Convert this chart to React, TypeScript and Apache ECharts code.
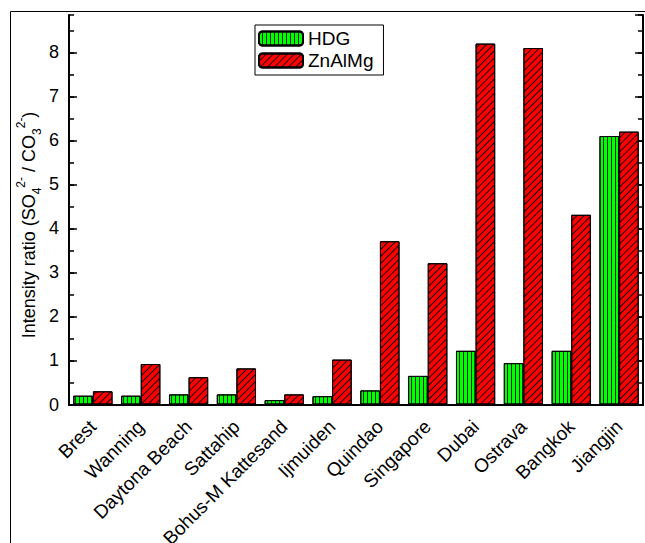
import React, { useEffect, useRef } from "react";
import * as echarts from "echarts";

const categories = [
  "Brest",
  "Wanning",
  "Daytona Beach",
  "Sattahip",
  "Bohus-M Kattesand",
  "Ijmuiden",
  "Quindao",
  "Singapore",
  "Dubai",
  "Ostrava",
  "Bangkok",
  "Jiangjin",
];
const hdgValues = [0.2, 0.2, 0.23, 0.23, 0.1, 0.19, 0.32, 0.65, 1.22, 0.94, 1.22, 6.1];
const znalmgValues = [0.3, 0.92, 0.62, 0.82, 0.23, 1.02, 3.71, 3.21, 8.2, 8.1, 4.31, 6.2];
const seriesNames = ["HDG", "ZnAlMg"];
const yMin = 0;
const yMax = 8.85;

const FONT = "Liberation Sans, Arial, sans-serif";

export default function App() {
  const ref = useRef<HTMLDivElement>(null);
  useEffect(() => {
    if (!ref.current) return;
    const chart = echarts.init(ref.current, null, { renderer: "svg" });
    const grid = { left: 69, right: 2, top: 15, bottom: 138.5, containLabel: false, outerBoundsMode: "none" };
    const axisLineStyle = { color: "#000", width: 2 };
    const xAxisBase = {
      type: "category" as const,
      data: categories,
      gridIndex: 0,
    };
    const option: any = {
      animation: false,
      backgroundColor: "#fff",
      grid,
      legend: {
        left: 255,
        top: 25,
        orient: "vertical",
        itemWidth: 44,
        itemHeight: 14,
        itemGap: 3,
        padding: [4, 10, 5, 3],
        borderColor: "#000",
        borderWidth: 1,
        textStyle: { fontSize: 19, fontFamily: FONT, color: "#000" },
        data: seriesNames,
      },
      xAxis: [
        {
          ...xAxisBase,
          position: "bottom",
          axisLine: { lineStyle: axisLineStyle },
          axisTick: { alignWithLabel: true, inside: false, length: 7, lineStyle: { color: "#000", width: 1.5 } },
          axisLabel: {
            interval: 0,
            rotate: 45,
            align: "right",
            verticalAlign: "middle",
            padding: [25, 0, 0, 0],
            margin: 19,
            fontSize: 19,
            fontFamily: FONT,
            color: "#000",
          },
          splitLine: { show: false },
        },
        {
          ...xAxisBase,
          position: "bottom",
          axisLine: { show: false },
          axisTick: { inside: false, length: 4, lineStyle: { color: "#000", width: 1.5 } },
          axisLabel: { show: false },
          splitLine: { show: false },
        },
        {
          ...xAxisBase,
          position: "top",
          axisLine: { lineStyle: axisLineStyle },
          axisTick: { alignWithLabel: true, inside: true, length: 8, lineStyle: { color: "#000", width: 1.5 } },
          axisLabel: { show: false },
          splitLine: { show: false },
        },
        {
          ...xAxisBase,
          position: "top",
          axisLine: { show: false },
          axisTick: { inside: true, length: 4, lineStyle: { color: "#000", width: 1.5 } },
          axisLabel: { show: false },
          splitLine: { show: false },
        },
      ],
      yAxis: [
        {
          type: "value",
          position: "left",
          min: yMin,
          max: yMax,
          interval: 1,
          axisLine: { show: true, lineStyle: axisLineStyle },
          axisTick: { show: true, inside: true, length: 8, lineStyle: { color: "#000", width: 1.5 } },
          axisLabel: {
            showMaxLabel: false,
            margin: 10,
            fontSize: 18,
            fontFamily: FONT,
            color: "#000",
          },
          splitLine: { show: false },
        },
        {
          type: "value",
          position: "left",
          min: yMin,
          max: yMax,
          interval: 0.5,
          axisLine: { show: false },
          axisTick: { show: true, inside: true, length: 5, lineStyle: { color: "#000", width: 1.5 } },
          axisLabel: { show: false },
          splitLine: { show: false },
        },
        {
          type: "value",
          position: "right",
          min: yMin,
          max: yMax,
          interval: 1,
          axisLine: { show: true, lineStyle: axisLineStyle },
          axisTick: { show: true, inside: true, length: 8, lineStyle: { color: "#000", width: 1.5 } },
          axisLabel: { show: false },
          splitLine: { show: false },
        },
        {
          type: "value",
          position: "right",
          min: yMin,
          max: yMax,
          interval: 0.5,
          axisLine: { show: false },
          axisTick: { show: true, inside: true, length: 5, lineStyle: { color: "#000", width: 1.5 } },
          axisLabel: { show: false },
          splitLine: { show: false },
        },
      ],
      series: [
        {
          name: seriesNames[0],
          type: "bar",
          xAxisIndex: 0,
          yAxisIndex: 0,
          data: hdgValues,
          barGap: "0%",
          barCategoryGap: "18%",
          itemStyle: {
            color: "#00ff00",
            borderColor: "#000",
            borderWidth: 1,
            decal: {
              symbol: "rect",
              symbolSize: 1,
              color: "rgba(0,0,0,0.85)",
              dashArrayX: [1, 0],
              dashArrayY: [1, 3],
              rotation: Math.PI / 2,
            },
          },
        },
        {
          name: seriesNames[1],
          type: "bar",
          xAxisIndex: 0,
          yAxisIndex: 0,
          data: znalmgValues,
          barGap: "0%",
          barCategoryGap: "18%",
          itemStyle: {
            color: "#ff0000",
            borderColor: "#000",
            borderWidth: 1,
            decal: {
              symbol: "rect",
              symbolSize: 1,
              color: "rgba(0,0,0,0.9)",
              dashArrayX: [1, 0],
              dashArrayY: [1, 4],
              rotation: -Math.PI / 4,
            },
          },
        },
      ],
      graphic: [
        {
          type: "rect",
          z: -1,
          silent: true,
          shape: { x: 10.5, y: 11.5, width: 1000, height: 1000 },
          style: { fill: "none", stroke: "#000", lineWidth: 1 },
        },
        {
          type: "text",
          x: 29,
          y: 225,
          rotation: Math.PI / 2,
          style: {
            text: "{a|Intensity ratio (SO}{sub|4}{sup|2-}{a| / CO}{sub|3}{sup|2-}{a|)}",
            align: "center",
            verticalAlign: "middle",
            fill: "#000",
            font: `18px ${FONT}`,
            rich: {
              a: { fontSize: 18, fontFamily: FONT, lineHeight: 28, verticalAlign: "middle", fill: "#000" },
              sub: { fontSize: 12, fontFamily: FONT, lineHeight: 28, verticalAlign: "bottom", fill: "#000" },
              sup: { fontSize: 12, fontFamily: FONT, lineHeight: 28, verticalAlign: "top", fill: "#000" },
            },
          },
        },
      ],
    };
    chart.setOption(option);
    return () => chart.dispose();
  }, []);
  return (
    <div
      ref={ref}
      style={{ position: "fixed", left: 0, top: 0, width: 645, height: 543 }}
    />
  );
}
